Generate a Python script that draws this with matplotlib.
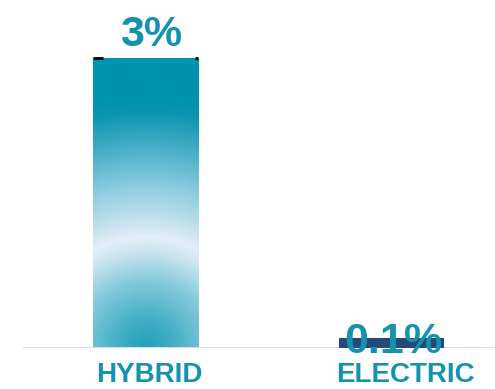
import numpy as np
import matplotlib.pyplot as plt
from matplotlib.colors import to_rgb
from matplotlib.patches import Rectangle

# =============================================================================
# Data
# =============================================================================
categories = ['HYBRID', 'ELECTRIC']
shares = [3.0, 0.1]
labels = ['3%', '0.1%']

teal = '#1592ae'
navy = '#234a78'

fig = plt.figure(figsize=(4.95, 3.89), dpi=100)
ax = fig.add_axes([23/495, 41.5/389, 1 - 23/495, 347.5/389])
x = np.arange(len(categories))
width = 0.427
bars = ax.bar(x, shares, width=width, color=['none', navy], zorder=2)
ax.set_xlim(-0.5, 1.419)
ax.set_ylim(0, 3.6)
ax.axhline(0, color='#d9d9d9', linewidth=2, zorder=1)
for s in ax.spines.values():
    s.set_visible(False)
ax.set_xticks([])
ax.set_yticks([])

# =============================================================================
# Radial gradient fill for the first bar
# =============================================================================
b = bars[0]
x0, y0 = b.get_x(), b.get_y()
w, h = b.get_width(), b.get_height()
fig.canvas.draw()
p0 = ax.transData.transform((x0, y0))
p1 = ax.transData.transform((x0 + w, y0 + h))
wpx, hpx = p1[0] - p0[0], p1[1] - p0[1]
u = np.linspace(-wpx/2, wpx/2, 200)
v = np.linspace(0, hpx, 500)
U, V = np.meshgrid(u, v)
R = np.sqrt(U**2 + V**2)
stops = [(0, '#21a0ba'), (30, '#45b0c7'), (67, '#86cadb'), (95, '#c9e5f0'),
         (110, '#e3edf8'), (130, '#c0e0ec'), (160, '#8fcde0'), (195, '#50b2ca'),
         (235, '#0c95b0'), (250, '#0093ae'), (400, '#0093ae')]
rs = np.array([s[0] for s in stops])
cols = np.array([to_rgb(s[1]) for s in stops])
img = np.stack([np.interp(R, rs, cols[:, k]) for k in range(3)], axis=-1)
im = ax.imshow(img, extent=(x0, x0 + w, y0, y0 + h), origin='lower',
               aspect='auto', zorder=2, interpolation='bilinear')
clip = Rectangle((x0, y0), w, h, transform=ax.transData)
im.set_clip_path(clip)

# black corner ticks at the bar top
ax.plot([x0, x0 + w*0.09], [h, h], color='black', linewidth=2, zorder=3,
        solid_capstyle='butt')
ax.plot([x0 + w*0.97, x0 + w], [h, h], color='black', linewidth=2, zorder=3,
        solid_capstyle='butt')

# =============================================================================
# Labels
# =============================================================================
ax.text(x[0] + 0.02, shares[0] + 0.24, labels[0], ha='center', va='center',
        fontsize=31, fontweight='bold', color=teal, family='Liberation Sans',
        zorder=4)
ax.text(x[1] + 0.005, shares[1] - 0.04, labels[1], ha='center', va='center',
        fontsize=31, fontweight='bold', color=teal, family='Liberation Sans',
        zorder=4)
offsets = [0.015, 0.055]
for xi, name, off in zip(x, categories, offsets):
    ax.text(xi + off, -0.29, name, ha='center', va='center', fontsize=20,
            fontweight='bold', color=teal, family='Liberation Sans',
            clip_on=False)

fig.savefig('out.png', dpi=100)
